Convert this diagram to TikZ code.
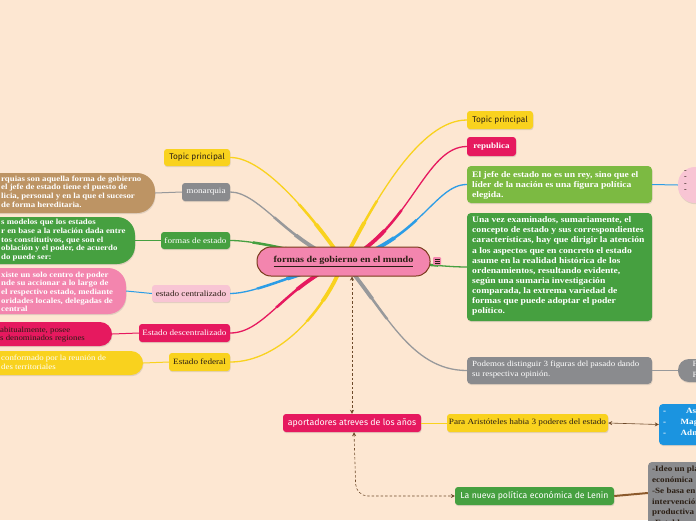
\documentclass[tikz,border=0pt]{standalone}
\usepackage{fontspec}
\setmainfont{Liberation Serif}[FakeStretch=1.13]
\newfontfamily\sansf{Fira Sans}
\usetikzlibrary{shadows,arrows.meta}
\definecolor{bgc}{HTML}{FDE7D2}
\definecolor{yelc}{HTML}{F9D21E}
\definecolor{magc}{HTML}{E6195F}
\definecolor{lgrc}{HTML}{7CBA42}
\definecolor{grc}{HTML}{46A040}
\definecolor{gryc}{HTML}{8A8B8E}
\definecolor{gryl}{HTML}{98999B}
\definecolor{brnc}{HTML}{BD9464}
\definecolor{pnkc}{HTML}{F385AE}
\definecolor{lpkc}{HTML}{F8C5D4}
\definecolor{bluc}{HTML}{1B94E0}
\definecolor{blul}{HTML}{2C9DE6}
\definecolor{arrc}{HTML}{6E4A2A}
\definecolor{lenc}{HTML}{8C5A2C}
\definecolor{dkc}{HTML}{2A1E14}
\definecolor{cbord}{HTML}{7A3B1C}
\tikzset{
 shd/.style={drop shadow={shadow xshift=0.5pt, shadow yshift=-1.2pt, opacity=0.22}},
 lab/.style={rectangle, rounded corners=3pt, inner sep=0pt, shd, font=\fontsize{8.1}{9}\selectfont},
 slab/.style={lab, font=\sansf\fontsize{8.3}{9}\selectfont},
 pbox/.style={rectangle, rounded corners=4pt, inner sep=0pt, shd},
 rtxt/.style={inner sep=0pt, anchor=north west, align=left, text=white, font=\bfseries\fontsize{8.5}{10.3}\selectfont},
 ltxt/.style={inner sep=0pt, anchor=north west, align=left, text=white, font=\bfseries\fontsize{7.8}{8.7}\selectfont},
 thin/.style={line width=1pt},
 arr/.style={arrc, line width=0.6pt, {Stealth[length=4pt,width=4pt]}-{Stealth[length=4pt,width=4pt]}},
 darr/.style={arr, dashed, dash pattern=on 2.5pt off 2pt},
}
\newcommand\mbranch[2]{%
 \draw[#1, line width=1.3pt] #2;
 \begin{scope}\clip (343.5,261.5) ellipse [x radius=95, y radius=65]; \draw[#1, line width=2.5pt] #2; \end{scope}
 \begin{scope}\clip (343.5,261.5) ellipse [x radius=62, y radius=42]; \draw[#1, line width=3.8pt] #2; \end{scope}
}
\begin{document}
\begin{tikzpicture}[x=1pt,y=-1pt]
\useasboundingbox (0,0) rectangle (696,520);
\fill[bgc] (0,0) rectangle (696,520);
\clip (0,0) rectangle (696,520);

% ---------- left label nodes
\node[slab, fill=yelc, minimum width=66, minimum height=17, text=dkc] (tpL) at (197,157.5) {Topic principal};
\node[lab, fill=gryc, minimum width=48, minimum height=18, text=white] (mon) at (206,192) {monarquia};
\node[lab, fill=grc, minimum width=69, minimum height=17, text=white] (fde) at (195.5,240.5) {formas de estado};
\node[lab, fill=lpkc, minimum width=78, minimum height=17, text=dkc] (ecen) at (191,293.5) {estado centralizado};
\node[lab, fill=magc, minimum width=91, minimum height=18, text=white] (edes) at (184.5,333) {Estado descentralizado};
\node[lab, fill=yelc, minimum width=61, minimum height=18, text=dkc] (efed) at (199.5,362) {Estado federal};

% ---------- left detail boxes
\node[pbox, rounded corners=18pt, fill=brnc, minimum width=215, minimum height=40] (bmon) at (47.5,193) {};
\node[ltxt] (tmon) at (1,175.5) {rquias son aquella forma de gobierno\\el jefe de estado tiene el puesto de\\licia, personal y en la que el sucesor\\de forma hereditaria.};
\node[pbox, rounded corners=18pt, fill=grc, minimum width=195, minimum height=47] (bfde) at (37.5,240.5) {};
\node[ltxt] (tfde) at (1,219) {s modelos que los estados\\r en base a la relación dada entre\\tos constitutivos, que son el\\oblación y el poder, de acuerdo\\do puede ser:};
\node[pbox, rounded corners=18pt, fill=pnkc, minimum width=186, minimum height=46] (bcen) at (33,291) {};
\node[ltxt] (tcen) at (1,271.5) {xiste un solo centro de poder\\nde su accionar a lo largo de\\el respectivo estado, mediante\\oridades locales, delegadas de\\central};
\node[pbox, rounded corners=12pt, fill=magc, minimum width=172, minimum height=24] (bdes) at (26,334) {};
\node[ltxt, text=dkc, font=\fontsize{7.8}{8.4}\selectfont] (tdes) at (0,326.5) {abitualmente, posee\\s denominados regiones};
\node[pbox, rounded corners=12pt, fill=yelc, minimum width=203, minimum height=24] (bfed) at (41.5,363) {};
\node[ltxt, font=\fontsize{7.8}{8.4}\selectfont] (tfed) at (1,355) {conformado por la reunión de\\des territoriales};

% ---------- right nodes
\node[slab, fill=yelc, minimum width=66, minimum height=18, text=dkc] (tpR) at (500,120) {Topic principal};
\node[lab, fill=magc, minimum width=49, minimum height=19, text=white, font=\bfseries\fontsize{8}{9}\selectfont] (rep) at (491.5,146.5) {republica};
\node[pbox, fill=lgrc, minimum width=185, minimum height=37] (lg) at (559.5,184.5) {};
\node[rtxt] (tlg) at (472,171) {El jefe de estado no es un rey, sino que el\\líder de la nación es una figura política\\elegida.};
\node[pbox, fill=grc, minimum width=185, minimum height=108] (bg) at (559.5,267) {};
\node[rtxt, font=\bfseries\fontsize{8.5}{10.15}\selectfont] (tbg) at (472,216.5) {Una vez examinados, sumariamente, el\\concepto de estado y sus correspondientes\\características, hay que dirigir la atención\\a los aspectos que en concreto el estado\\asume en la realidad histórica de los\\ordenamientos, resultando evidente,\\según una sumaria investigación\\comparada, la extrema variedad de\\formas que puede adoptar el poder\\político.};
\node[pbox, fill=gryc, minimum width=185, minimum height=27] (pod) at (559.5,370.5) {};
\node[rtxt, font=\fontsize{7.9}{10.3}\selectfont] (tpod) at (472,360.5) {Podemos distinguir 3 figuras del pasado dando\\su respectiva opinión.};
\node[pbox, rounded corners=17pt, fill=lpkc, minimum width=52, minimum height=36] (pkR) at (704,185) {};
\node[inner sep=0pt, anchor=north west, align=left, text=dkc, font=\bfseries\fontsize{7}{6.3}\selectfont] (tpkR) at (684,170.5) {-\\-\\-\\-};
\node[pbox, rounded corners=11pt, fill=gryc, minimum width=52, minimum height=23] (grR) at (704,370.5) {};
\node[inner sep=0pt, anchor=north west, align=left, text=white, font=\fontsize{8}{10.5}\selectfont] (tgrR) at (692.5,361) {Fi\\Pl};

% ---------- bottom nodes
\node[slab, fill=magc, minimum width=138, minimum height=18, text=white, font=\sansf\fontsize{8.8}{9}\selectfont] (apo) at (352,423) {aportadores atreves de los años};
\node[lab, fill=yelc, minimum width=161, minimum height=18, text=dkc] (ari) at (527.5,423) {Para Aristóteles habia 3 poderes del estado};
\node[pbox, fill=bluc, minimum width=61, minimum height=41] (blu) at (689.5,424.5) {};
\node[inner sep=0pt, anchor=north west, align=left, text=white, font=\bfseries\fontsize{8}{11}\selectfont] (tblu) at (663,407.5) {\makebox[23pt][l]{-}Asamblea\\\makebox[17.5pt][l]{-}Magistratura\\\makebox[17.5pt][l]{-}Administración};
\node[slab, fill=grc, minimum width=159, minimum height=18, text=white, font=\sansf\fontsize{8.7}{9}\selectfont] (len) at (534.5,496) {La nueva política económica de Lenin};
\node[pbox, fill=gryc, minimum width=72, minimum height=70] (gb) at (684,497) {};
\node[inner sep=0pt, anchor=north west, align=left, text=dkc, font=\bfseries\fontsize{8}{10.8}\selectfont] (tgb) at (652,466) {-Ideo un plan\\económica\\-Se basa en\\intervención\\productiva\\-Establece};

% ---------- thin connectors
\draw[gryl, thin] (mon.west) -- (bmon.east);
\draw[grc, thin] (fde.west) -- (bfde.east);
\draw[blul, thin] (ecen.west) -- (bcen.east);
\draw[magc, thin] (edes.west) -- (bdes.east);
\draw[yelc, thin] (efed.west) -- (bfed.east);
\draw[blul, thin] (lg.east) -- (pkR.west);
\draw[gryl, thin] (pod.east) -- (grR.west);
\draw[yelc, thin] (apo.east) -- (ari.west);
\draw[arr] (ari.east) -- (blu.west);
\draw[lenc, line width=2pt] (len.east) -- ([yshift=4pt]gb.west);

% ---------- main branches
\mbranch{yelc}{(343.5,261.5) .. controls (315,220) and (265,157) .. (tpL.east)}
\mbranch{gryl}{(343.5,261.5) .. controls (290,245) and (260,192) .. (mon.east)}
\mbranch{grc}{(343.5,261.5) .. controls (290,250) and (255,240.5) .. (fde.east)}
\mbranch{blul}{(343.5,261.5) .. controls (290,275) and (255,293.5) .. (ecen.east)}
\mbranch{magc}{(343.5,261.5) .. controls (285,285) and (265,333) .. (edes.east)}
\mbranch{yelc}{(343.5,261.5) .. controls (325,310) and (280,362) .. (efed.east)}
\mbranch{yelc}{(343.5,261.5) .. controls (375,200) and (420,120) .. (tpR.west)}
\mbranch{magc}{(343.5,261.5) .. controls (410,230) and (425,146.5) .. (rep.west)}
\mbranch{blul}{(343.5,261.5) .. controls (420,240) and (435,184.5) .. (lg.west)}
\mbranch{grc}{(343.5,261.5) .. controls (420,262) and (440,267) .. (bg.west)}
\mbranch{gryl}{(343.5,261.5) .. controls (385,310) and (410,370.5) .. (pod.west)}

% ---------- center
\node[fill=pnkc, draw=cbord, line width=1pt, rounded corners=14pt, minimum width=173, minimum height=29, inner sep=0pt, text=dkc, font=\bfseries\fontsize{9}{10}\selectfont] (cen) at (343.5,261.5) {\underline{formas de gobierno en el mundo}};
\node[fill=pnkc, minimum width=8, minimum height=8, inner sep=0pt, rounded corners=1pt] (icon) at (437,261) {};
\draw[dkc, line width=0.5pt] (434.5,259) -- (439.5,259) (434.5,261) -- (439.5,261) (434.5,263) -- (439.5,263);

% ---------- dashed relations
\draw[darr] (apo.north |- cen.south) -- (apo.north);
\draw[darr, rounded corners=12pt] ([xshift=2pt]apo.south) -- (356,496) -- (len.west);
\end{tikzpicture}
\end{document}
